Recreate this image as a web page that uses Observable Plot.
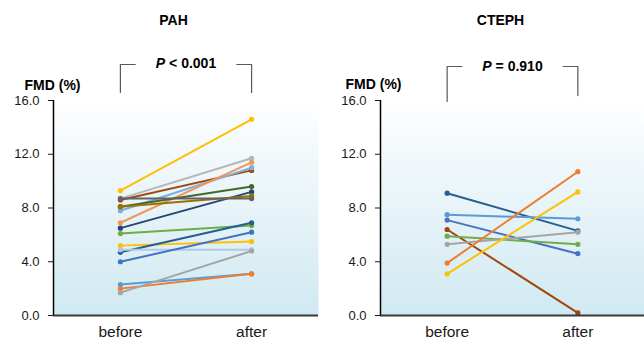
<!DOCTYPE html>
<html>
<head>
<meta charset="utf-8">
<script src="https://cdn.jsdelivr.net/npm/d3@7"></script>
<script src="https://cdn.jsdelivr.net/npm/@observablehq/plot@0.6"></script>
<style>
  html, body { margin: 0; padding: 0; background: #fff; }
  #wrap { display: flex; width: 644px; height: 339px; overflow: hidden; }
</style>
</head>
<body>
<div id="wrap"></div>
<script>
// ---- data ----
const categories = ["before", "after"];
const yTicks = [0, 4, 8, 12, 16];
const yLabel = "FMD (%)";

const pahTitle = "PAH";
const pahP = "P < 0.001";
const pahColors = ["#FFC000", "#B7B7B7", "#9E480E", "#7CAFDD", "#F1975A", "#43682B", "#264478", "#997300", "#636363",
                   "#70AD47", "#FFC000", "#255E91", "#B4C7E7", "#4472C4", "#5B9BD5", "#ED7D31", "#A5A5A5"];
const pahBefore = [9.3, 8.7, 8.6, 7.8, 6.9, 8.1, 6.5, 8.1, 8.7, 6.1, 5.2, 4.7, 4.9, 4.0, 2.3, 2.0, 1.7];
const pahAfter  = [14.6, 11.7, 10.8, 11.0, 11.4, 9.6, 9.2, 8.9, 8.7, 6.7, 5.5, 6.9, 4.9, 6.2, 3.1, 3.1, 4.8];

const ctephTitle = "CTEPH";
const ctephP = "P = 0.910";
const ctephColors = ["#255E91", "#5B9BD5", "#4472C4", "#9E480E", "#70AD47", "#A5A5A5", "#ED7D31", "#FFC000"];
const ctephBefore = [9.1, 7.5, 7.1, 6.4, 5.9, 5.3, 3.9, 3.1];
const ctephAfter  = [6.3, 7.2, 4.6, 0.2, 5.3, 6.2, 10.7, 9.2];

// ---- layout ----
const H = 339;
const xDomain = [-0.51, 1.51];
const FONT = "'Liberation Sans', Arial, Helvetica, sans-serif";

function makePanel(cfg) {
  const rows = [];
  cfg.before.forEach((b, i) => {
    rows.push({id: i, x: 0, v: b, c: cfg.colors[i]});
    rows.push({id: i, x: 1, v: cfg.after[i], c: cfg.colors[i]});
  });
  const br = cfg.bracket;
  const bracketPts = [
    [{x: 0, y: br.leftBottom}, {x: 0, y: br.top}, {x: br.arm, y: br.top}],
    [{x: 1 - br.arm, y: br.top}, {x: 1, y: br.top}, {x: 1, y: br.rightBottom}]
  ].flatMap((seg, k) => seg.map(p => ({...p, k})));

  const svg = Plot.plot({
    width: cfg.width, height: H,
    marginTop: 100, marginBottom: 24, marginLeft: cfg.marginLeft, marginRight: cfg.marginRight,
    x: {domain: xDomain, axis: null},
    y: {domain: [0, 16], axis: null},
    color: {type: "identity"},
    style: {fontFamily: FONT, fontSize: "13px", background: "transparent", overflow: "visible", color: "#1a1a1a"},
    marks: [
      Plot.frame({fill: `url(#${cfg.gid})`, stroke: "none"}),
      Plot.axisY({ticks: yTicks, tickFormat: d => d.toFixed(1), tickSize: 5, tickPadding: 9, fontSize: 13, color: "#1a1a1a", label: null}),
      Plot.axisX({ticks: [0, 1], tickFormat: d => categories[d], tickSize: 0, tickPadding: 10, fontSize: 15.5, color: "#1a1a1a", label: null}),
      Plot.line(rows, {x: "x", y: "v", z: "id", stroke: "c", strokeWidth: 2}),
      Plot.dot(rows, {x: "x", y: "v", fill: "c", r: 2.6}),
      Plot.ruleY([0], {stroke: "#3a3a3a", strokeWidth: 2}),
      Plot.ruleX([xDomain[0]], {y1: 0, y2: 16, stroke: "#000", strokeWidth: 1.5}),
      Plot.line(bracketPts, {x: "x", y: "y", z: "k", stroke: "#595959", strokeWidth: 1.2}),
      Plot.text([cfg.pText], {text: d => d, x: 0.5, y: cfg.pY, fontWeight: "bold", fontSize: 14, fill: "#000"}),
      Plot.text([cfg.title], {text: d => d, frameAnchor: "top", lineAnchor: "middle", dx: cfg.titleDx, dy: -80, fontWeight: "bold", fontSize: 14, fill: "#000"}),
      Plot.text([yLabel], {text: d => d, frameAnchor: "top-left", lineAnchor: "middle", textAnchor: "start", dx: cfg.fmdDx, dy: cfg.fmdDy, fontWeight: "bold", fontSize: 14, fill: "#000"})
    ]
  });
  svg.insertAdjacentHTML("afterbegin",
    `<defs><linearGradient id="${cfg.gid}" x1="0" y1="0" x2="0" y2="1">
       <stop offset="0" stop-color="#ffffff"/>
       <stop offset="0.15" stop-color="#f7fbfd"/>
       <stop offset="1" stop-color="#d0e9f1"/>
     </linearGradient></defs>`);
  // italic P in the significance label
  svg.querySelectorAll("text").forEach(t => {
    const s = t.textContent;
    if (s === cfg.pText) {
      t.textContent = "";
      const ns = "http://www.w3.org/2000/svg";
      const a = document.createElementNS(ns, "tspan");
      a.setAttribute("font-style", "italic");
      a.textContent = s.slice(0, 1);
      t.appendChild(a);
      t.appendChild(document.createTextNode(s.slice(1)));
    }
  });
  return svg;
}

const wrap = document.getElementById("wrap");
wrap.appendChild(makePanel({
  title: pahTitle, pText: pahP, before: pahBefore, after: pahAfter, colors: pahColors,
  width: 322, marginLeft: 53, marginRight: 4, gid: "gradPAH",
  pY: 18.78, titleDx: -12.5, fmdDx: -29, fmdDy: -15,
  bracket: {top: 18.68, leftBottom: 16.6, rightBottom: 16.6, arm: 0.113}
}));
wrap.appendChild(makePanel({
  title: ctephTitle, pText: ctephP, before: ctephBefore, after: ctephAfter, colors: ctephColors,
  width: 322, marginLeft: 58, marginRight: 0, gid: "gradCTEPH",
  pY: 18.53, titleDx: -12, fmdDx: -35, fmdDy: -16,
  bracket: {top: 18.53, leftBottom: 15.93, rightBottom: 16.37, arm: 0.113}
}));
</script>
</body>
</html>
